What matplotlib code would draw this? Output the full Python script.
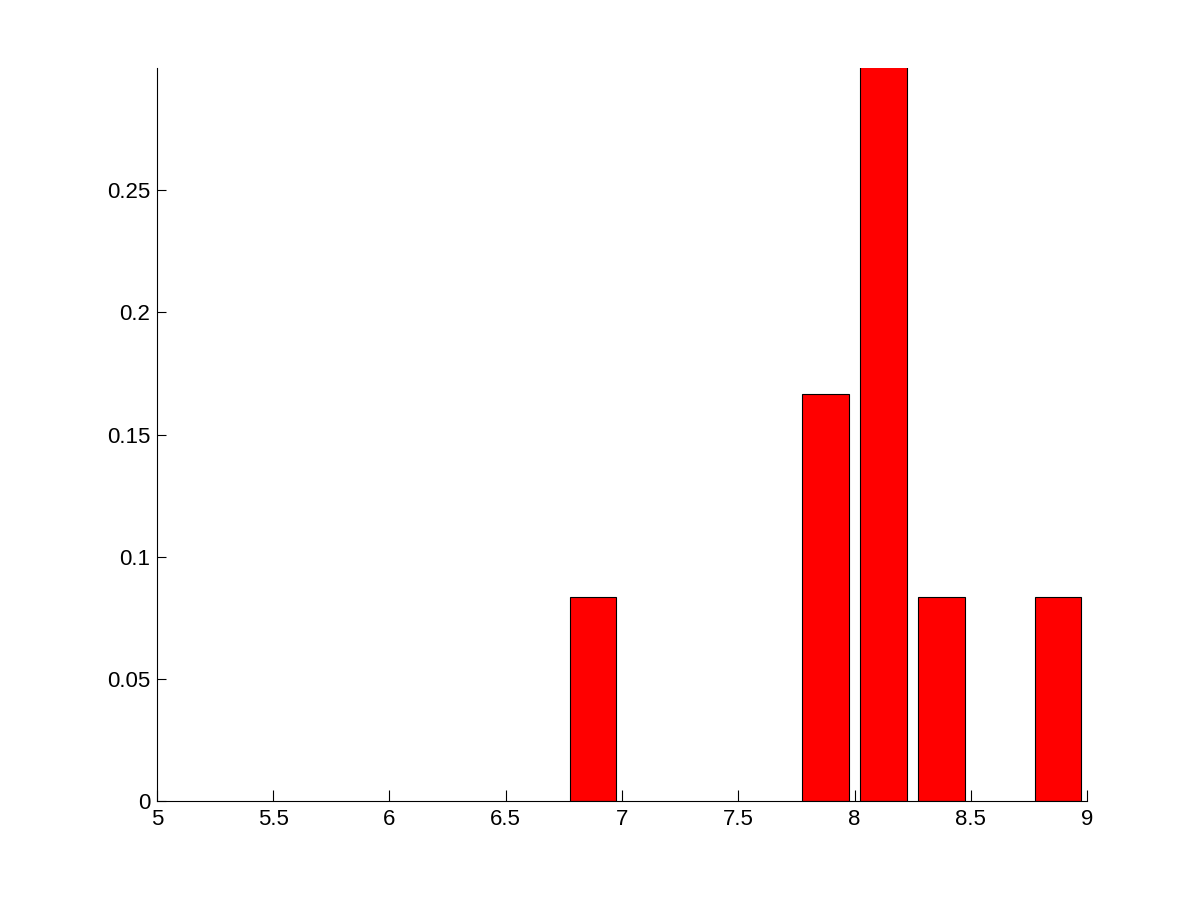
import matplotlib
matplotlib.use("Agg")
import matplotlib.pyplot as plt

# bin centres and relative frequencies (tallest bar runs past the top of the axes)
bin_centres = [6.875, 7.875, 8.125, 8.375, 8.875]
freqs = [1 / 12, 2 / 12, 7 / 12, 1 / 12, 1 / 12]
x_ticks = [5, 5.5, 6, 6.5, 7, 7.5, 8, 8.5, 9]
y_ticks = [0, 0.05, 0.1, 0.15, 0.2, 0.25]

plt.rcParams["font.family"] = ["Liberation Sans", "DejaVu Sans"]

fig = plt.figure(figsize=(12.01, 9.01), dpi=100)
ax = fig.add_axes([0.1307, 0.111, 0.7744, 0.8135])

ax.bar(bin_centres, freqs, width=0.2, color="#ff0000", edgecolor="black", linewidth=0.8)

ax.set_xlim(5, 9)
ax.set_ylim(0, 0.3)
ax.set_xticks(x_ticks)
ax.set_xticklabels([f"{v:g}" for v in x_ticks])
ax.set_yticks(y_ticks)
ax.set_yticklabels([f"{v:g}" for v in y_ticks])

for side in ("top", "right"):
    ax.spines[side].set_visible(False)
for side in ("left", "bottom"):
    ax.spines[side].set_linewidth(0.8)

ax.tick_params(axis="x", direction="in", length=8, width=0.8, labelsize=16, pad=6)
ax.tick_params(axis="y", direction="in", length=6.5, width=0.8, labelsize=16, pad=5)

fig.savefig("out.png", dpi=100)
